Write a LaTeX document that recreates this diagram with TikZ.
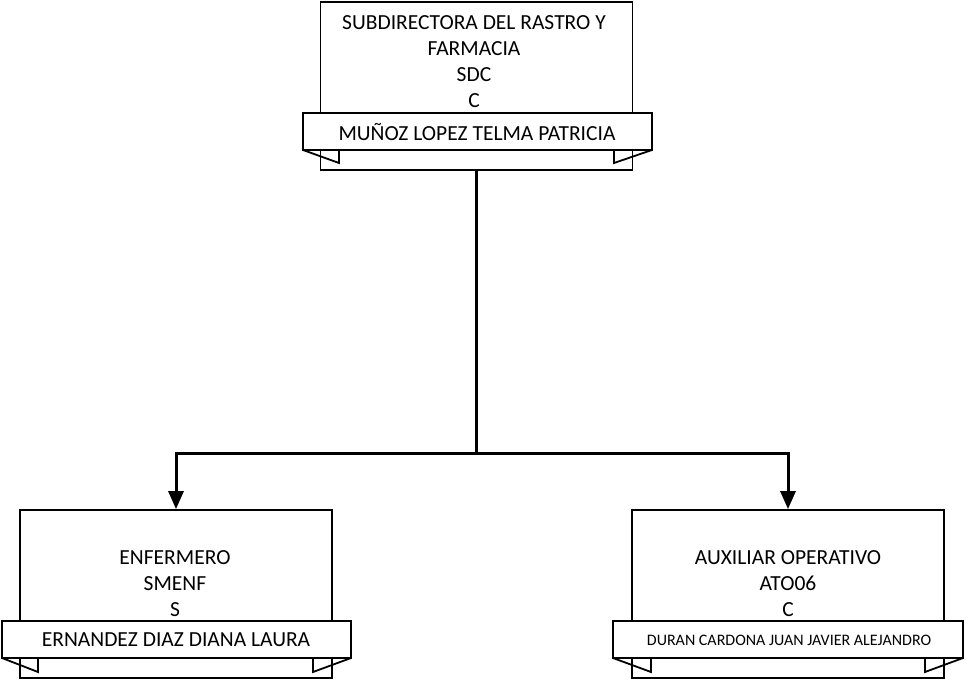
\documentclass[tikz,border=0pt]{standalone}
\usepackage{fontspec}
\setmainfont{Carlito}
\usetikzlibrary{arrows.meta}
\tikzset{
  posbox/.style={draw=black, line width=1.8pt, fill=white, minimum width=312pt, minimum height=168pt, inner sep=0pt},
  banner/.style={draw=black, line width=1.8pt, fill=white, minimum height=37pt, inner sep=0pt},
  flap/.style={draw=black, line width=1.8pt, line join=miter},
  postext/.style={align=center, font=\fontsize{21.5}{26}\selectfont, inner sep=0pt},
  nametext/.style={font=\fontsize{21.5}{24}\selectfont, inner sep=0pt},
  link/.style={draw=black, line width=3pt},
  arrowlink/.style={link, -{Triangle[width=15pt,length=18pt]}}
}
\begin{document}
\begin{tikzpicture}[x=1pt,y=-1pt]
\useasboundingbox (0,0) rectangle (966,679);
% top
\node[posbox] (top) at (476.5,86) {};
\draw[flap] (303,150) -- (339,163) -- (339,150);
\draw[flap] (652,150) -- (614,163) -- (614,150);
\node[banner, minimum width=349pt] (topb) at (477.5,131.5) {};
\node[postext] (toptxt) at (474,62) {SUBDIRECTORA DEL RASTRO Y\\FARMACIA\\SDC\\C};
\node[nametext] (topname) at (477,132) {MUÑOZ LOPEZ TELMA PATRICIA};
% left
\node[posbox] (left) at (176,594) {};
\draw[flap] (2,658) -- (38,672) -- (38,658);
\draw[flap] (351,658) -- (313,672) -- (313,658);
\node[banner, minimum width=349pt] (leftb) at (176.5,639.5) {};
\node[postext] (lefttxt) at (175,584) {ENFERMERO\\SMENF\\S};
\node[nametext] (leftname) at (176,640) {ERNANDEZ DIAZ DIANA LAURA};
% right
\node[posbox] (right) at (788,594) {};
\draw[flap] (613,658) -- (651,672) -- (651,658);
\draw[flap] (963,658) -- (925,672) -- (925,658);
\node[banner, minimum width=350pt] (rightb) at (788,639.5) {};
\node[postext] (righttxt) at (788,584) {AUXILIAR OPERATIVO\\ATO06\\C};
\node[nametext, font=\fontsize{16}{18}\selectfont] (rightname) at (789,640) {DURAN CARDONA JUAN JAVIER ALEJANDRO};
% connectors
\coordinate (j) at (476.5,453);
\draw[link] (top.south) -- (j);
\draw[arrowlink] (j) -| (left.north);
\draw[arrowlink] (j) -| (right.north);
\end{tikzpicture}
\end{document}
